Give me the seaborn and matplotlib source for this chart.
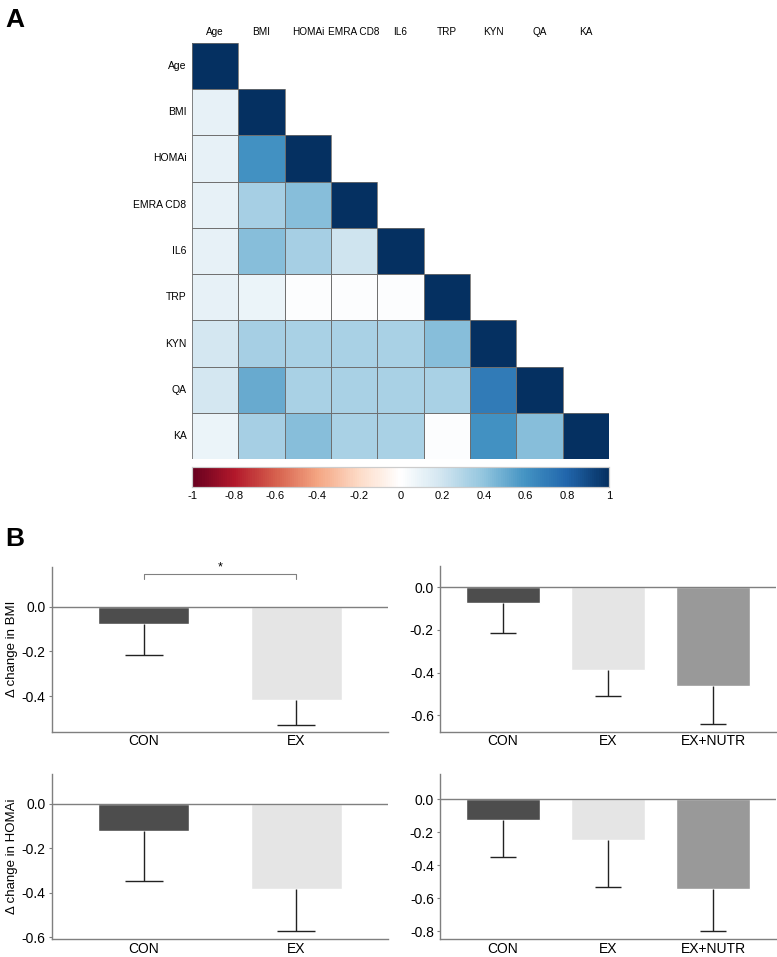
import numpy as np
import pandas as pd
import matplotlib
matplotlib.use("Agg")
import matplotlib.pyplot as plt
from matplotlib.colors import LinearSegmentedColormap
from matplotlib.patches import Rectangle
import seaborn as sns

sns.set_style("white")
plt.rcParams['font.family'] = ['Liberation Sans', 'DejaVu Sans']
plt.rcParams['axes.unicode_minus'] = False
plt.rcParams['text.color'] = 'black'
plt.rcParams['xtick.color'] = 'black'
plt.rcParams['ytick.color'] = 'black'
plt.rcParams['axes.labelcolor'] = 'black'

# ---- correlation matrix (lower triangle incl. diagonal) ----
variables = ["Age", "BMI", "HOMAi", "EMRA CD8", "IL6", "TRP", "KYN", "QA", "KA"]
corr_rows = [
    [1.0],
    [0.10, 1.0],
    [0.10, 0.60, 1.0],
    [0.10, 0.33, 0.42, 1.0],
    [0.10, 0.42, 0.33, 0.20, 1.0],
    [0.10, 0.08, 0.01, 0.01, 0.01, 1.0],
    [0.18, 0.33, 0.32, 0.32, 0.32, 0.42, 1.0],
    [0.18, 0.50, 0.32, 0.32, 0.32, 0.32, 0.70, 1.0],
    [0.08, 0.33, 0.42, 0.32, 0.32, 0.01, 0.60, 0.42, 1.0],
]
cbar_ticks = [-1, -0.8, -0.6, -0.4, -0.2, 0, 0.2, 0.4, 0.6, 0.8, 1]

# ---- bar data ----
groups2 = ["CON", "EX"]
groups3 = ["CON", "EX", "EX+NUTR"]
bmi_mean_2 = [-0.075, -0.42]
bmi_err_2 = [0.14, 0.11]
bmi_mean_3 = [-0.072, -0.387, -0.465]
bmi_err_3 = [0.143, 0.122, 0.175]
homa_mean_2 = [-0.124, -0.381]
homa_err_2 = [0.224, 0.19]
homa_mean_3 = [-0.124, -0.248, -0.544]
homa_err_3 = [0.228, 0.287, 0.256]
group_colors = {"CON": "#4d4d4d", "EX": "#e5e5e5", "EX+NUTR": "#999999"}

n = len(variables)
corr = np.full((n, n), np.nan)
for i, row in enumerate(corr_rows):
    corr[i, :len(row)] = row
corr_df = pd.DataFrame(corr, index=variables, columns=variables)
mask = np.triu(np.ones((n, n), dtype=bool), k=1)

cmap = LinearSegmentedColormap.from_list(
    "corrplot_rdbu",
    ["#67001F", "#B2182B", "#D6604D", "#F4A582", "#FDDBC7", "#FFFFFF",
     "#D1E5F0", "#92C5DE", "#4393C3", "#2166AC", "#053061"], N=200)

W, H = 777, 957
fig = plt.figure(figsize=(W / 100, H / 100), dpi=100)


def px_axes(x0, y0, x1, y1):
    return fig.add_axes([x0 / W, 1 - y1 / H, (x1 - x0) / W, (y1 - y0) / H])


ax_hm = px_axes(192, 42.7, 609, 459.3)
ax_cb = px_axes(192, 466.7, 609, 486.7)

sns.heatmap(corr_df, mask=mask, cmap=cmap, vmin=-1, vmax=1, ax=ax_hm,
            cbar_ax=ax_cb, cbar_kws={"orientation": "horizontal", "ticks": cbar_ticks},
            linewidths=0, square=False)
# cell borders only on the drawn (lower) triangle
for i in range(n):
    for j in range(i + 1):
        ax_hm.add_patch(Rectangle((j, i), 1, 1, fill=False, edgecolor="#6e6e6e", lw=0.6))
ax_hm.xaxis.tick_top()
ax_hm.set_xticklabels(variables, rotation=0, fontsize=7.2)
ax_hm.set_yticklabels(variables, rotation=0, fontsize=7.5)
ax_hm.tick_params(length=0, pad=4)
ax_hm.set_xlabel("")
ax_hm.set_ylabel("")

ax_cb.set_xticklabels(["%g" % t for t in cbar_ticks], fontsize=8)
ax_cb.tick_params(length=0, pad=3)
for s in ax_cb.spines.values():
    s.set_visible(True)
    s.set_color("#cccccc")
    s.set_linewidth(0.8)

fig.text(5 / W, 1 - 27 / H, "A", fontsize=19, fontweight="bold")
fig.text(5 / W, 1 - 546 / H, "B", fontsize=19, fontweight="bold")


def bar_panel(ax, groups, means, errs, ylim, yticks, width, ylabel=None):
    df = pd.DataFrame({"group": groups, "mean": means})
    sns.barplot(data=df, x="group", y="mean", hue="group", palette=group_colors,
                legend=False, width=width, ax=ax, saturation=1)
    ax.axhline(0, color="#7f7f7f", lw=1.0, zorder=1)
    xs = np.arange(len(groups))
    lows = np.array(means) - np.array(errs)
    ax.vlines(xs, means, lows, color="#222222", lw=1.0)
    ax.hlines(lows, xs - 0.125, xs + 0.125, color="#222222", lw=1.0)
    ax.set_xlim(-0.6, len(groups) - 0.4)
    ax.set_ylim(*ylim)
    ax.set_yticks(yticks)
    ax.set_yticklabels(["%.1f" % t for t in yticks])
    ax.set_xlabel("")
    ax.set_ylabel(ylabel if ylabel else "", fontsize=9.5, labelpad=3)
    sns.despine(ax=ax)
    for s in ["left", "bottom"]:
        ax.spines[s].set_color("#7f7f7f")
        ax.spines[s].set_linewidth(1.0)
    ax.tick_params(axis="y", labelsize=10, length=2.5, color="#7f7f7f", pad=2, left=True)
    ax.tick_params(axis="x", labelsize=10, length=0, pad=2, bottom=True)


ax1 = px_axes(52, 566.7, 388, 731.7)
bar_panel(ax1, groups2, bmi_mean_2, bmi_err_2, (-0.56, 0.18), [0.0, -0.2, -0.4], 0.6,
          "\u0394 change in BMI")
ax1.plot([0, 0, 1, 1], [0.125, 0.148, 0.148, 0.125], color="#808080", lw=0.8)
ax1.text(0.5, 0.152, "*", ha="center", va="bottom", fontsize=9)

ax2 = px_axes(440, 566, 776, 731.7)
bar_panel(ax2, groups3, bmi_mean_3, bmi_err_3, (-0.677, 0.10), [0.0, -0.2, -0.4, -0.6], 0.7)

ax3 = px_axes(52, 774.3, 388, 939)
bar_panel(ax3, groups2, homa_mean_2, homa_err_2, (-0.607, 0.133), [0.0, -0.2, -0.4, -0.6], 0.6,
          "\u0394 change in HOMAi")

ax4 = px_axes(440, 774.3, 776, 939)
bar_panel(ax4, groups3, homa_mean_3, homa_err_3, (-0.848, 0.15),
          [0.0, -0.2, -0.4, -0.6, -0.8], 0.7)

fig.savefig("out.png", dpi=100)
